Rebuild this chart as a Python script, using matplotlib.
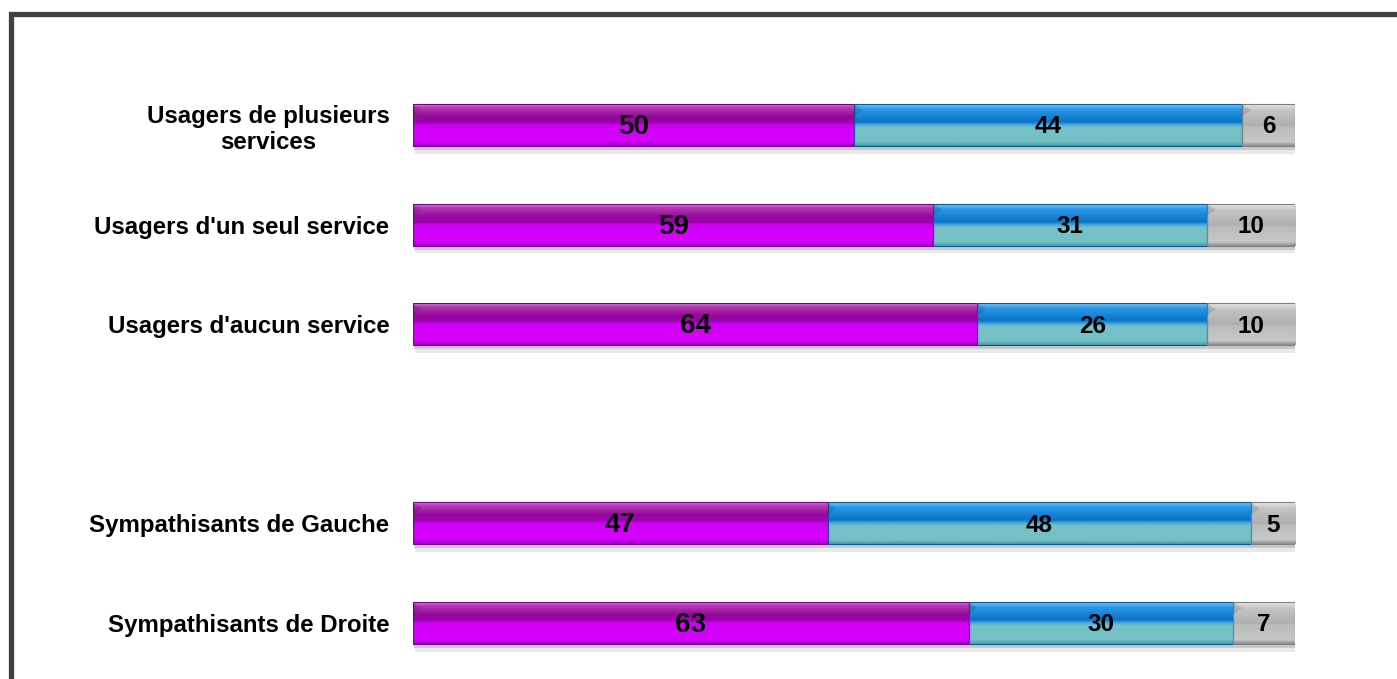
import matplotlib.pyplot as plt
import numpy as np
from matplotlib.colors import LinearSegmentedColormap
from matplotlib.patches import Rectangle

plt.rcParams['font.family'] = ['Liberation Sans', 'DejaVu Sans']

# groupes (la ligne vide sépare les deux blocs)
categories = ["Usagers de plusieurs\nservices", "Usagers d'un seul service",
              "Usagers d'aucun service", "",
              "Sympathisants de Gauche", "Sympathisants de Droite"]
oui = [50, 59, 64, None, 47, 63]
non = [44, 31, 26, None, 48, 30]
nsp = [6, 10, 10, None, 5, 7]

# dégradés verticaux pour l'effet "relief" des barres
grad_violet = [(0.0, '#e27ae2'), (0.08, '#b43cb4'), (0.30, '#94089a'), (0.44, '#a000b4'),
               (0.50, '#d000f6'), (0.88, '#d600ff'), (1.0, '#9e00c0')]
grad_bleu = [(0.0, '#6cc8ff'), (0.12, '#2a98e6'), (0.42, '#0a74c8'), (0.50, '#50a8d8'),
             (0.56, '#74c2c8'), (0.90, '#74c0c4'), (1.0, '#4c9ca4')]
grad_gris = [(0.0, '#e6e6e6'), (0.15, '#c4c4c4'), (0.50, '#b0b0b0'), (0.55, '#bcbcbc'),
             (0.90, '#c8c8c8'), (1.0, '#8c8c8c')]
bords = ['#7a0090', '#0a5a9a', '#808080']

fig = plt.figure(figsize=(13.97, 6.79), dpi=100)
fig.patch.set_facecolor('white')
ax = fig.add_axes([413 / 1397, 0, (1295 - 413) / 1397, 1])

h = 0.42
col = np.linspace(0, 1, 200).reshape(-1, 1)
for i, cat in enumerate(categories):
    if oui[i] is None:
        continue
    vals = [oui[i], non[i], nsp[i]]
    left = 0
    # ombre portée sous la barre
    ax.barh(i + h / 2 + 0.04, sum(vals) + 0.3, height=0.08, left=0.2,
            color='#b8b8b8', alpha=0.3, zorder=1)
    ax.barh(i + h / 2 + 0.02, sum(vals) + 0.2, height=0.04, left=0.1,
            color='#909090', alpha=0.35, zorder=1)
    for j, (v, grad) in enumerate(zip(vals, [grad_violet, grad_bleu, grad_gris])):
        cmap = LinearSegmentedColormap.from_list('g%d' % j, grad)
        ax.imshow(col, cmap=cmap, aspect='auto', origin='upper',
                  extent=(left, left + v, i + h / 2, i - h / 2), zorder=2)
        ax.barh(i, v, left=left, height=h, fill=False, edgecolor=bords[j],
                linewidth=0.8, zorder=3)
        # petit biseau en haut à gauche de chaque segment
        ax.fill([left, left + 1.0, left], [i - h / 2, i - h / 2 + 0.06, i - h / 2 + 0.12],
                color='black', alpha=0.12, lw=0, zorder=3)
        size = 20 if j == 0 else 17.5
        ax.text(left + v / 2, i + 0.02, str(v), ha='center', va='center',
                fontsize=size, fontweight='bold', color='black', zorder=4)
        left += v

ax.set_xlim(0, 100)
ax.set_ylim((679 - 125) / 99.6, -125 / 99.6)
ax.set_yticks(range(len(categories)))
ax.set_yticklabels(categories, fontsize=17.3, fontweight='bold', multialignment='center')
ax.tick_params(axis='y', length=0, pad=17)
ax.set_xticks([])
for s in ax.spines.values():
    s.set_visible(False)
ax.patch.set_alpha(0)

# cadre gris foncé
fig.add_artist(Rectangle((10.5 / 1397, -0.2), 1.2, 1.2 - 14.5 / 679,
                         transform=fig.transFigure, fill=False,
                         edgecolor='#404040', linewidth=3.8))

fig.savefig('out.png', dpi=100, facecolor='white')
